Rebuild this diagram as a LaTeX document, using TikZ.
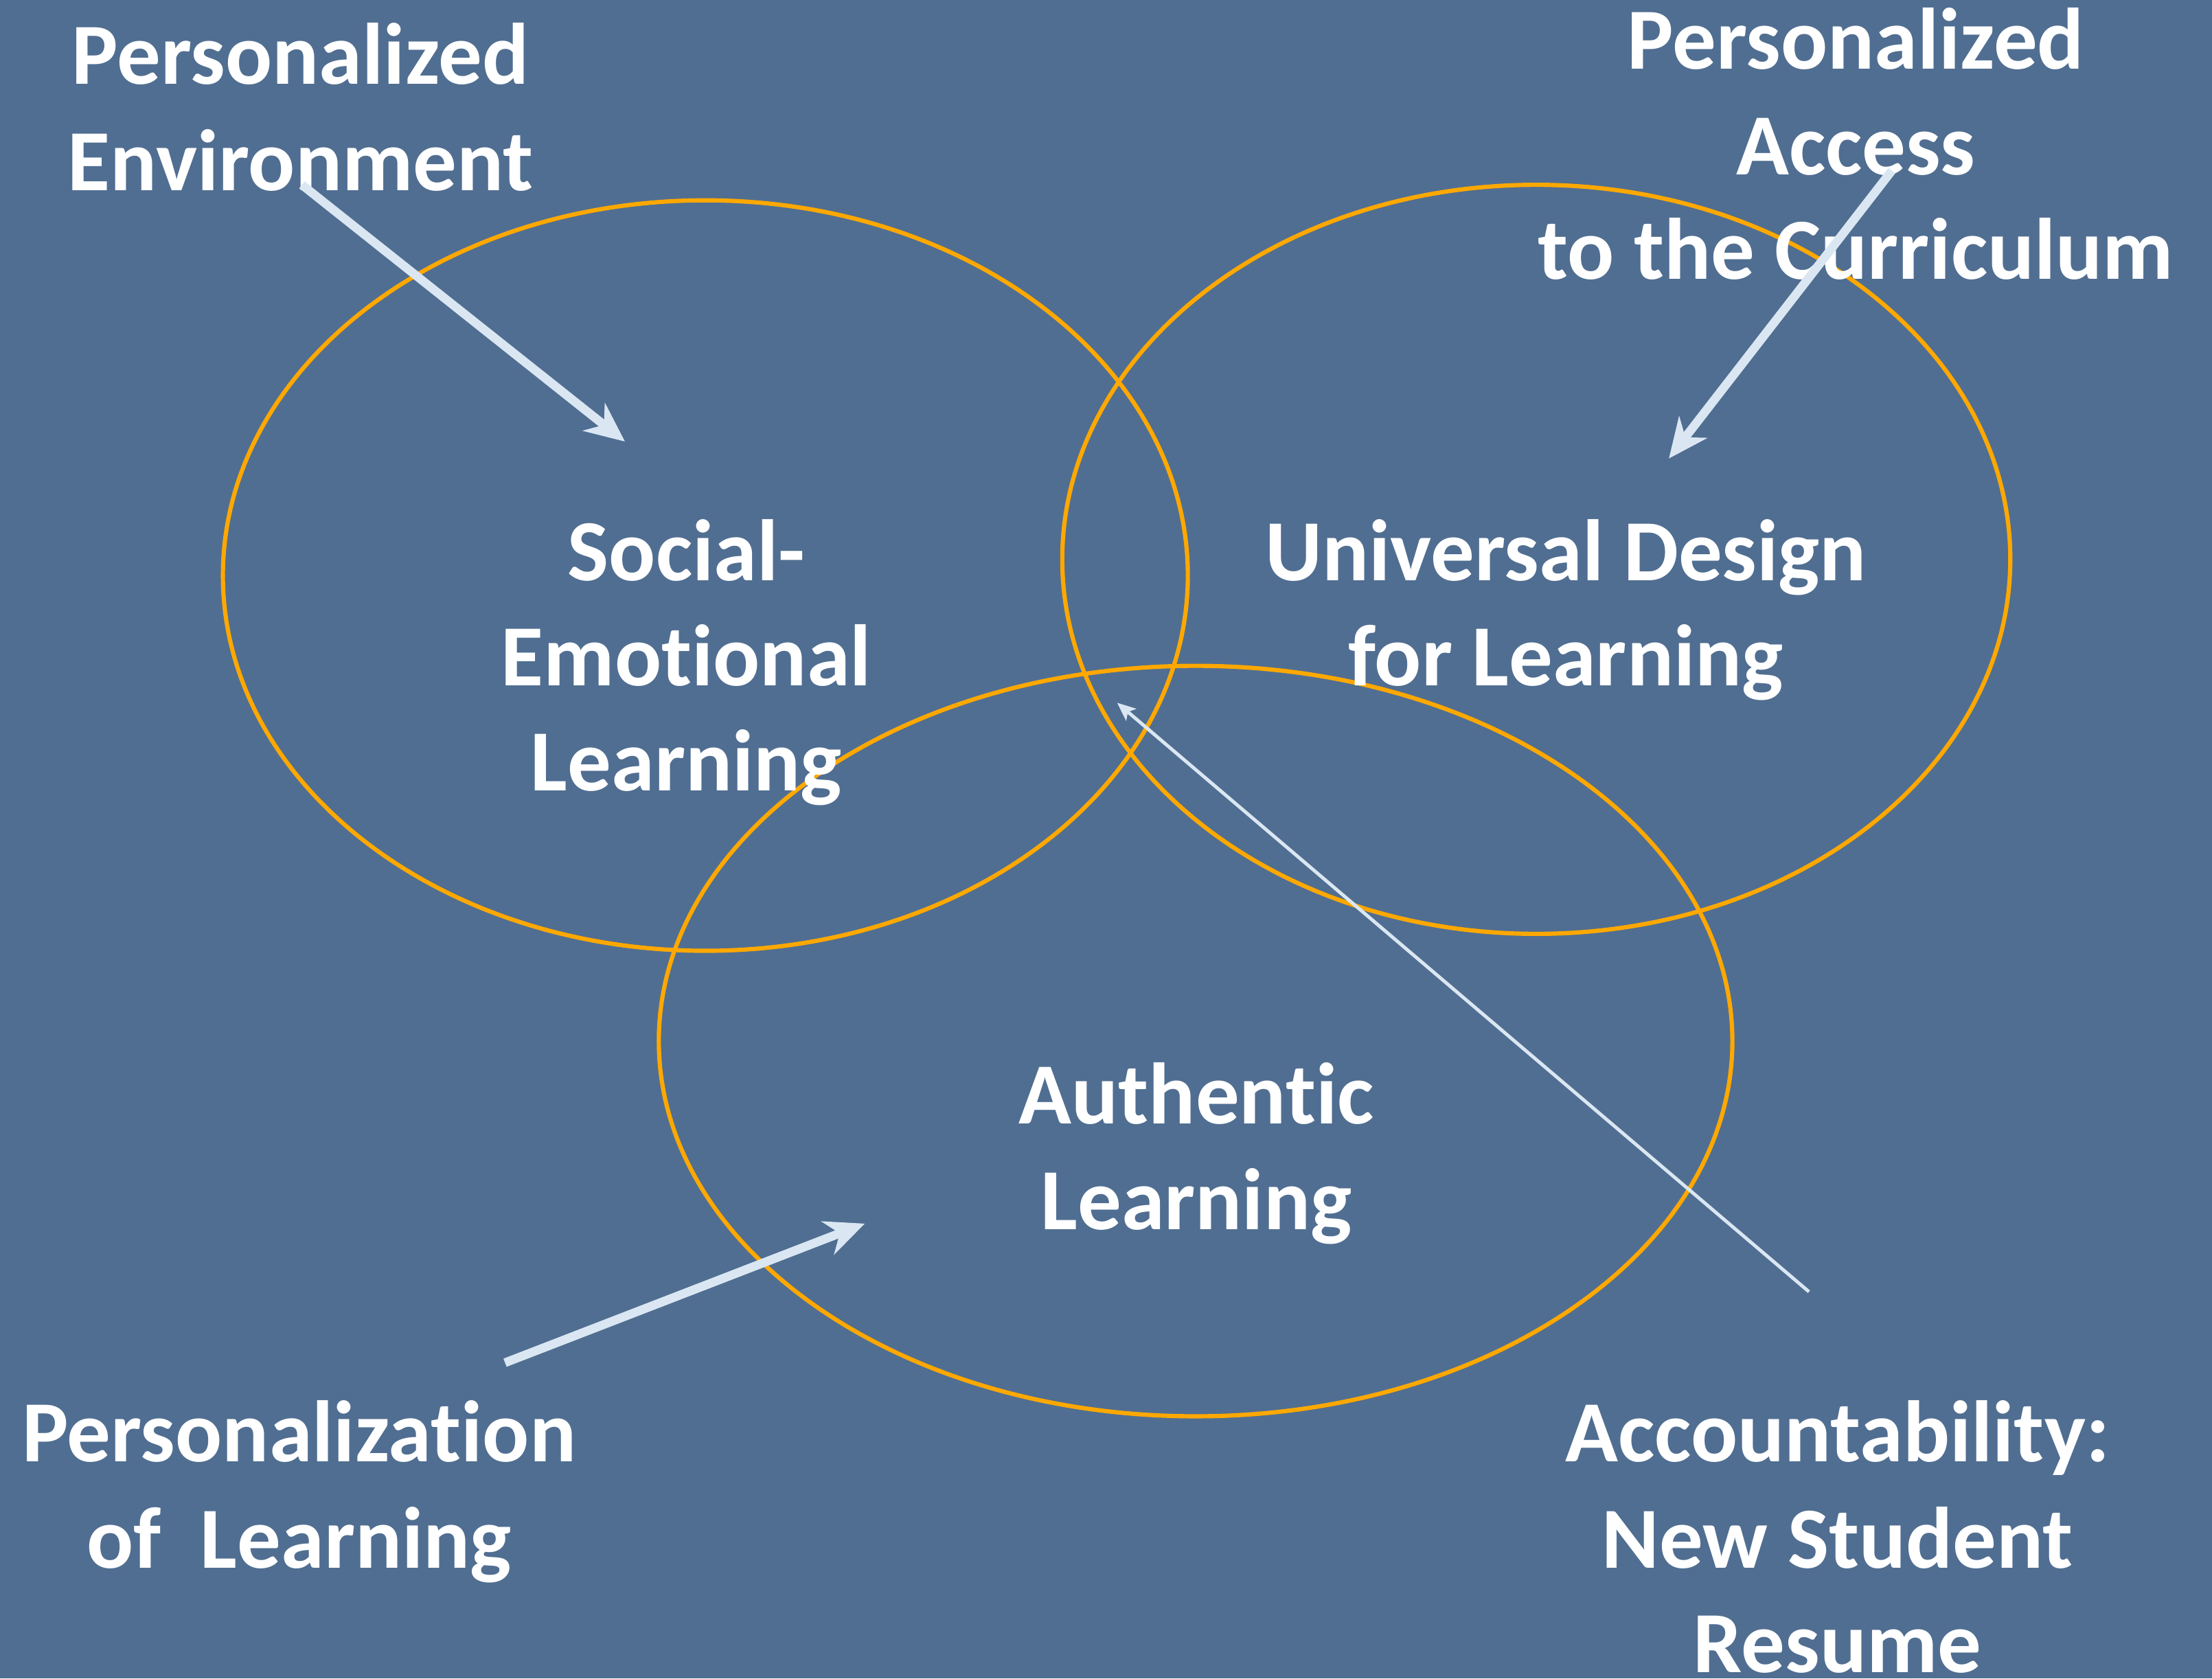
\documentclass[tikz,border=0pt]{standalone}
\usepackage{fontspec}
\setmainfont{Carlito}[Ligatures={NoCommon,NoRequired,NoContextual}]
\usetikzlibrary{arrows.meta}
\definecolor{bgc}{RGB}{80,110,145}
\definecolor{ringc}{RGB}{255,168,0}
\definecolor{arrowc}{RGB}{218,231,243}
\begin{document}
\begin{tikzpicture}[x=0.5pt,y=-0.5pt,
  ring/.style={draw=ringc,line width=1.5pt},
  lbl/.style={anchor=base,inner sep=0pt,text=white,font=\fontsize{30.9}{37.7}\selectfont\bfseries},
  bigarrow/.style={draw=arrowc,line width=3.1pt,-{Stealth[length=14pt,width=12.5pt,inset=4.5pt]}},
  thinarrow/.style={draw=arrowc,line width=1.2pt,-{Stealth[length=6.5pt,width=5.5pt,inset=1.5pt]}}]
\fill[bgc] (0,0) rectangle (1568,1189.8);
\useasboundingbox (0,0) rectangle (1568,1189.8);
% circles
\draw[ring] (500,408) ellipse [x radius=342, y radius=266];
\draw[ring] (1089,396.5) ellipse [x radius=336, y radius=265.5];
\draw[ring] (847.5,738) ellipse [x radius=380.5, y radius=266];
% centre labels
\node[lbl] (sel1) at (486.5,411.4) {Social-};
\node[lbl] (sel2) at (486.5,486.0) {Emotional};
\node[lbl] (sel3) at (486.5,560.6) {Learning};
\node[lbl] (udl1) at (1110,411.4) {Universal Design};
\node[lbl] (udl2) at (1110,486.0) {for Learning};
\node[lbl] (aut1) at (848,796.7) {Authentic};
\node[lbl] (aut2) at (848,871.4) {Learning};
% outer labels
\node[lbl] (pe1) at (213,59.4) {Personalized};
\node[lbl] (pe2) at (213,134.9) {Environment};
\node[lbl] (pa1) at (1315.5,48.7) {Personalized};
\node[lbl] (pa2) at (1315.5,124.1) {Access};
\node[lbl] (pa3) at (1315.5,198.0) {to the Curriculum};
\node[lbl] (pl1) at (212,1036.1) {Personalization};
\node[lbl] (pl2) at (212,1111.6) {of\ \ Learning};
\node[lbl] (ac1) at (1302.5,1036.1) {Accountability:};
\node[lbl] (ac2) at (1302.5,1111.6) {New Student};
\node[lbl] (ac3) at (1302.5,1185.4) {Resume};
% arrows
\coordinate (a1s) at (214,131);
\coordinate (a1e) at (443,313);
\coordinate (a2s) at (1341,121);
\coordinate (a2e) at (1183,325);
\coordinate (a3s) at (358,966);
\coordinate (a3e) at (613,867.4);
\coordinate (a4s) at (1282.3,915.7);
\coordinate (a4e) at (791.9,498.2);
\draw[bigarrow] (a1s) -- (a1e);
\draw[bigarrow] (a2s) -- (a2e);
\draw[bigarrow] (a3s) -- (a3e);
\draw[thinarrow] (a4s) -- (a4e);
\end{tikzpicture}
\end{document}
